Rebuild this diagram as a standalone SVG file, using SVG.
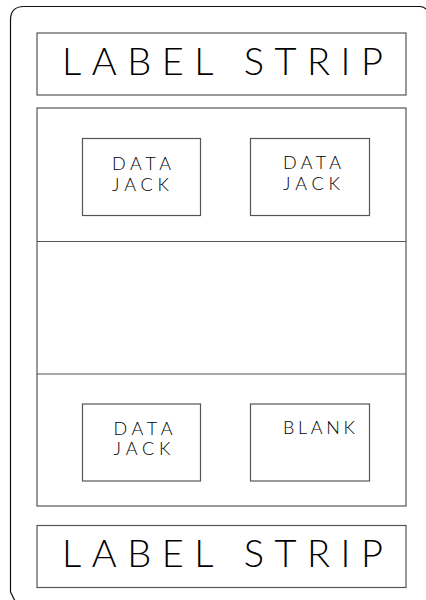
<svg xmlns="http://www.w3.org/2000/svg" width="426" height="600" viewBox="0 0 426 600">
  <style>
    .frame { fill: none; stroke: #111; stroke-width: 1.2; }
    .box { fill: none; stroke: #555; stroke-width: 1.2; }
    .strip { font-family: Lato, Roboto, "Liberation Sans", sans-serif; font-weight: 300; font-size: 38px; fill: #000; }
    .jack { font-family: Lato, Roboto, "Liberation Sans", sans-serif; font-weight: 300; font-size: 18px; fill: #000; }
  </style>
  <rect width="426" height="600" fill="#fff"/>

  <!-- outer faceplate outline, extends past the canvas on right and bottom -->
  <g id="faceplate">
    <path class="frame" d="M10.5 592 L10.5 20 Q10.5 6.5 24 6.5 L420 6.5 Q424 6.5 427 10"/>
    <path class="frame" d="M10.5 592 L15 601"/>
  </g>

  <g id="label-strip-top">
    <rect class="box" x="37" y="33" width="369" height="62"/>
    <text class="strip" x="62" y="75" textLength="321" lengthAdjust="spacing">LABEL STRIP</text>
  </g>

  <g id="module-frame">
    <rect class="box" x="37" y="108" width="369" height="398"/>
    <line class="box" x1="37" y1="241.5" x2="406" y2="241.5"/>
    <line class="box" x1="37" y1="374" x2="406" y2="374"/>
  </g>

  <g id="jack-top-left">
    <rect class="box" x="82.5" y="138.5" width="118" height="77"/>
    <text class="jack" x="112" y="170" textLength="59" lengthAdjust="spacing">DATA</text>
    <text class="jack" x="112" y="191" textLength="57" lengthAdjust="spacing">JACK</text>
  </g>

  <g id="jack-top-right">
    <rect class="box" x="250.5" y="138.5" width="119" height="77"/>
    <text class="jack" x="283" y="168.5" textLength="58" lengthAdjust="spacing">DATA</text>
    <text class="jack" x="283" y="189.5" textLength="57" lengthAdjust="spacing">JACK</text>
  </g>

  <g id="jack-bottom-left">
    <rect class="box" x="82.5" y="404" width="118" height="77"/>
    <text class="jack" x="113.5" y="434.5" textLength="59" lengthAdjust="spacing">DATA</text>
    <text class="jack" x="113.5" y="455" textLength="57" lengthAdjust="spacing">JACK</text>
  </g>

  <g id="blank-bottom-right">
    <rect class="box" x="250.5" y="404" width="119" height="77"/>
    <text class="jack" x="283" y="434" textLength="72" lengthAdjust="spacing">BLANK</text>
  </g>

  <g id="label-strip-bottom">
    <rect class="box" x="37" y="525.5" width="369" height="62"/>
    <text class="strip" x="62" y="567" textLength="321" lengthAdjust="spacing">LABEL STRIP</text>
  </g>

  <g id="connectors"/>
</svg>
